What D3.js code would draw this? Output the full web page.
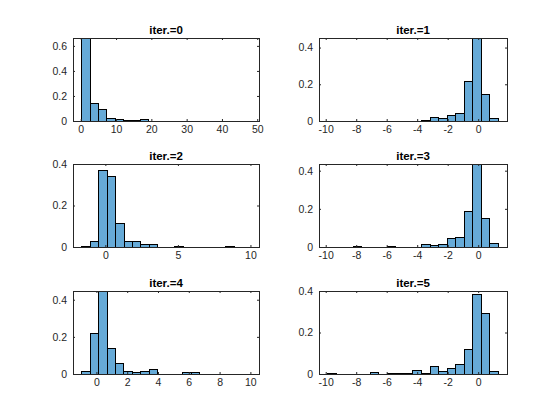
<!DOCTYPE html>
<html>
<head>
<meta charset="utf-8">
<script src="https://cdn.jsdelivr.net/npm/d3@7"></script>
<style>
  body { margin: 0; background: #fff; }
  text { font-family: "Liberation Sans", Arial, Helvetica, sans-serif; }
</style>
</head>
<body>
<svg id="chart" width="560" height="420"></svg>
<script>
// histogram data (probability per bin), one array per iteration
const titles = ['iter.=0', 'iter.=1', 'iter.=2', 'iter.=3', 'iter.=4', 'iter.=5'];
const iter0 = [0.663, 0.143, 0.093, 0.021, 0.014, 0.006, 0.006, 0.014];
const iter1 = [0.005, 0.020, 0.015, 0.031, 0.042, 0.218, 0.452, 0.146, 0.015];
const iter2 = [0.004, 0.028, 0.371, 0.343, 0.115, 0.028, 0.028, 0.013, 0.013,
    0, 0, 0.004, 0, 0, 0, 0, 0, 0.004];
const iter3 = [0.004, 0, 0, 0, 0.004, 0, 0, 0,
    0.016, 0.009, 0.016, 0.046, 0.051, 0.188, 0.435, 0.151, 0.019];
const iter4 = [0.016, 0.222, 0.447, 0.140, 0.059, 0.016, 0.011, 0.016, 0.027,
    0, 0, 0, 0.011, 0.011];
const iter5 = [0.004, 0, 0, 0, 0, 0.010, 0, 0.004, 0.004, 0.004, 0.019,
    0.005, 0.039, 0.015, 0.029, 0.048, 0.121, 0.387, 0.295, 0.015];
const series = [iter0, iter1, iter2, iter3, iter4, iter5];
const binStarts = [0.1, -3.75, -1.66, -8.23, -0.97, -9.91];
const binWidths = [2.38, 0.56, 0.583, 0.56, 0.545, 0.56];
const xLims = [[-2.2, 50.5], [-10.44, 1.89], [-2.23, 10.59], [-10.44, 1.89], [-1.52, 10.56], [-10.44, 1.89]];
const yLims = [[0, 0.663], [0, 0.452], [0, 0.4], [0, 0.435], [0, 0.447], [0, 0.4]];
const xTicks = [
    [0, 10, 20, 30, 40, 50],
    [-10, -8, -6, -4, -2, 0],
    [0, 5, 10],
    [-10, -8, -6, -4, -2, 0],
    [0, 2, 4, 6, 8, 10],
    [-10, -8, -6, -4, -2, 0],
];
const yTicks = [[0, 0.2, 0.4, 0.6], [0, 0.2, 0.4], [0, 0.2, 0.4], [0, 0.2, 0.4], [0, 0.2, 0.4], [0, 0.2, 0.4]];

const colLeft = [73, 319];
const colWidth = [186, 188];
const rowTop = [38, 164, 291];
const rowHeight = 83;
const ink = '#262626';
const barFill = '#66aad7';

const svg = d3.select('#chart');

series.forEach((vals, i) => {
    const col = i % 2;
    const row = Math.floor(i / 2);
    const w = colWidth[col];
    const h = rowHeight;
    const g = svg.append('g')
        .attr('transform', `translate(${colLeft[col]},${rowTop[row]})`);

    const x = d3.scaleLinear().domain(xLims[i]).range([0, w]);
    const y = d3.scaleLinear().domain(yLims[i]).range([h, 0]);

    const bins = vals.map((v, k) => ({
        x0: binStarts[i] + k * binWidths[i],
        x1: binStarts[i] + (k + 1) * binWidths[i],
        v,
    }));

    g.append('clipPath').attr('id', `clip${i}`)
        .append('rect').attr('width', w).attr('height', h + 1).attr('y', -0.5);

    g.append('g').attr('clip-path', `url(#clip${i})`)
        .selectAll('rect')
        .data(bins)
        .join('rect')
        .attr('x', d => Math.round(x(d.x0)) + 0.5)
        .attr('width', d => Math.round(x(d.x1)) - Math.round(x(d.x0)))
        .attr('y', d => Math.round(y(d.v)) + 0.5)
        .attr('height', d => Math.max(0, Math.round(y(0)) - Math.round(y(d.v))))
        .attr('fill', barFill)
        .attr('stroke', '#000')
        .attr('stroke-width', 1);

    const xAxis = g.append('g').attr('transform', `translate(0,${h})`)
        .call(d3.axisBottom(x).tickValues(xTicks[i]).tickSizeInner(-2).tickSizeOuter(0)
            .tickPadding(5).tickFormat(d => String(d)));
    const xTop = g.append('g')
        .call(d3.axisTop(x).tickValues(xTicks[i]).tickSizeInner(-2).tickSizeOuter(0).tickFormat(''));
    const yAxis = g.append('g')
        .call(d3.axisLeft(y).tickValues(yTicks[i]).tickSizeInner(-2).tickSizeOuter(0)
            .tickPadding(6).tickFormat(d => String(d)));
    const yRight = g.append('g').attr('transform', `translate(${w},0)`)
        .call(d3.axisRight(y).tickValues(yTicks[i]).tickSizeInner(-2).tickSizeOuter(0).tickFormat(''));

    [xAxis, xTop, yAxis, yRight].forEach(a => {
        a.select('.domain').remove();
        a.selectAll('line').attr('stroke', ink);
        a.selectAll('text').attr('fill', ink).style('font-size', '10.5px');
    });

    g.append('rect')
        .attr('x', 0.5).attr('y', 0.5)
        .attr('width', w).attr('height', h)
        .attr('fill', 'none')
        .attr('stroke', ink)
        .attr('stroke-width', 1);

    g.append('text')
        .attr('x', w / 2)
        .attr('y', -4)
        .attr('text-anchor', 'middle')
        .attr('fill', '#000')
        .style('font-size', '11.5px')
        .style('font-weight', 'bold')
        .text(titles[i]);
});
</script>
</body>
</html>
